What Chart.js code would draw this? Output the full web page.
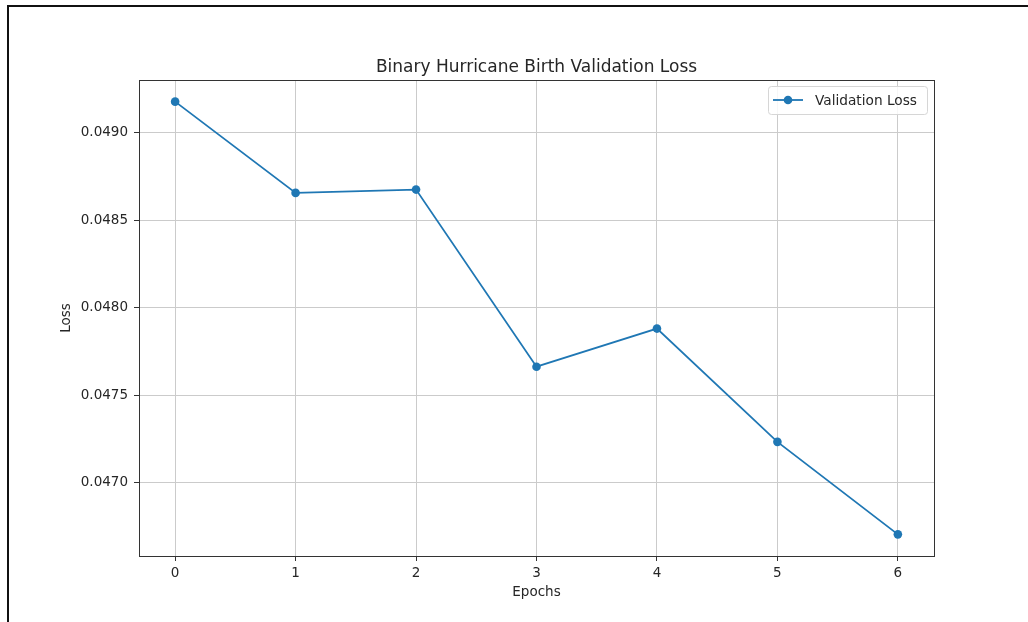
<!DOCTYPE html>
<html>
<head>
<meta charset="utf-8">
<script src="https://cdn.jsdelivr.net/npm/chart.js@4.4.1/dist/chart.umd.min.js"></script>
<style>
  html, body { margin: 0; padding: 0; background: #fff; }
  canvas { display: block; }
</style>
</head>
<body>
<canvas id="lossChart" width="1028" height="622"></canvas>
<script>
// Validation loss per training epoch
const epochs = [0, 1, 2, 3, 4, 5, 6];
const validationLoss = [0.049179, 0.048657, 0.048676, 0.047663, 0.047881, 0.047233, 0.046704];

// Axis ticks
const epochTicks = [0, 1, 2, 3, 4, 5, 6];
const lossTicks = [0.0470, 0.0475, 0.0480, 0.0485, 0.0490];

// Texts
const seriesLabel = 'Validation Loss';
const chartTitle = 'Binary Hurricane Birth Validation Loss';
const xAxisTitle = 'Epochs';
const yAxisTitle = 'Loss';

const FONT = "'DejaVu Sans', 'Liberation Sans', sans-serif";
const LINE_COLOR = '#1f77b4';
const TEXT_COLOR = '#262626';
const GRID_COLOR = '#cbcbcb';
const SPINE_COLOR = '#333';

// Axis limits with a 5% margin around the data, like a default autoscale
const xSpan = Math.max(...epochs) - Math.min(...epochs);
const xMin = Math.min(...epochs) - 0.05 * xSpan;
const xMax = Math.max(...epochs) + 0.05 * xSpan;
const ySpan = Math.max(...validationLoss) - Math.min(...validationLoss);
const yMin = Math.min(...validationLoss) - 0.05 * ySpan;
const yMax = Math.max(...validationLoss) + 0.05 * ySpan;

const points = epochs.map((e, i) => ({ x: e, y: validationLoss[i] }));

// Page frame: white background plus the dark left and top edges
const framePlugin = {
  id: 'frame',
  beforeDraw(chart) {
    const ctx = chart.ctx;
    ctx.save();
    ctx.fillStyle = '#fff';
    ctx.fillRect(0, 0, chart.width, chart.height);
    ctx.fillStyle = '#111';
    ctx.fillRect(7, 5, 2, chart.height - 5);
    ctx.fillRect(7, 5, chart.width - 7, 2);
    ctx.restore();
  }
};

// Four spines around the plotting area
const spinesPlugin = {
  id: 'spines',
  afterDatasetsDraw(chart) {
    const { ctx, chartArea: a } = chart;
    ctx.save();
    ctx.strokeStyle = SPINE_COLOR;
    ctx.lineWidth = 1;
    ctx.strokeRect(Math.round(a.left) + 0.5, Math.round(a.top) + 0.5,
                   Math.round(a.right - a.left), Math.round(a.bottom - a.top));
    ctx.restore();
  }
};

// Legend box in the upper right corner of the plotting area
const legendPlugin = {
  id: 'boxLegend',
  afterDraw(chart) {
    const { ctx, chartArea: a } = chart;
    const ds = chart.data.datasets[0];
    const w = 159, h = 28;
    const x = a.right - 7 - w, y = a.top + 6;
    ctx.save();
    ctx.beginPath();
    ctx.roundRect(x + 0.5, y + 0.5, w, h, 3);
    ctx.fillStyle = 'rgba(255,255,255,0.85)';
    ctx.fill();
    ctx.strokeStyle = '#d6d6d6';
    ctx.lineWidth = 1;
    ctx.stroke();
    const cy = y + h / 2;
    ctx.strokeStyle = ds.borderColor;
    ctx.lineWidth = ds.borderWidth;
    ctx.beginPath();
    ctx.moveTo(x + 5, cy);
    ctx.lineTo(x + 35, cy);
    ctx.stroke();
    ctx.fillStyle = ds.pointBackgroundColor;
    ctx.beginPath();
    ctx.arc(x + 20, cy, ds.pointRadius, 0, Math.PI * 2);
    ctx.fill();
    ctx.fillStyle = TEXT_COLOR;
    ctx.font = '13.7px ' + FONT;
    ctx.textBaseline = 'middle';
    ctx.textAlign = 'left';
    ctx.fillText(ds.label, x + 47, cy + 1);
    ctx.restore();
  }
};

new Chart(document.getElementById('lossChart'), {
  type: 'line',
  data: {
    datasets: [{
      label: seriesLabel,
      data: points,
      borderColor: LINE_COLOR,
      backgroundColor: LINE_COLOR,
      borderWidth: 1.8,
      pointRadius: 4.3,
      pointBackgroundColor: LINE_COLOR,
      pointBorderWidth: 0,
      pointHoverRadius: 4.3,
      tension: 0,
      fill: false
    }]
  },
  options: {
    responsive: false,
    animation: false,
    events: [],
    layout: { padding: { left: 0, right: 94, top: 0, bottom: 0 } },
    plugins: {
      legend: { display: false },
      tooltip: { enabled: false },
      title: {
        display: true,
        text: chartTitle,
        fullSize: false,
        color: TEXT_COLOR,
        font: { family: FONT, size: 17, weight: 'normal' },
        padding: { top: 57, bottom: 2.6 }
      }
    },
    scales: {
      x: {
        type: 'linear',
        min: xMin,
        max: xMax,
        afterBuildTicks(scale) { scale.ticks = epochTicks.map(v => ({ value: v })); },
        afterFit(scale) { scale.height = 66; },
        ticks: {
          color: TEXT_COLOR,
          font: { family: FONT, size: 13.5 },
          padding: 4,
          maxRotation: 0,
          callback: v => String(v)
        },
        grid: { color: GRID_COLOR, lineWidth: 1, tickColor: SPINE_COLOR, tickLength: 5, drawTicks: true },
        border: { display: false },
        title: {
          display: true,
          text: xAxisTitle,
          color: TEXT_COLOR,
          font: { family: FONT, size: 13.5 },
          padding: { top: 0, bottom: 21 }
        }
      },
      y: {
        type: 'linear',
        min: yMin,
        max: yMax,
        afterBuildTicks(scale) { scale.ticks = lossTicks.map(v => ({ value: v })); },
        afterFit(scale) { scale.width = 139; },
        ticks: {
          color: TEXT_COLOR,
          font: { family: FONT, size: 13.5 },
          padding: 6,
          callback: v => Number(v).toFixed(4)
        },
        grid: { color: GRID_COLOR, lineWidth: 1, tickColor: SPINE_COLOR, tickLength: 5, drawTicks: true },
        border: { display: false },
        title: {
          display: true,
          text: yAxisTitle,
          color: TEXT_COLOR,
          font: { family: FONT, size: 13.5 },
          padding: { top: 58, bottom: 0 }
        }
      }
    }
  },
  plugins: [framePlugin, spinesPlugin, legendPlugin]
});
</script>
</body>
</html>
